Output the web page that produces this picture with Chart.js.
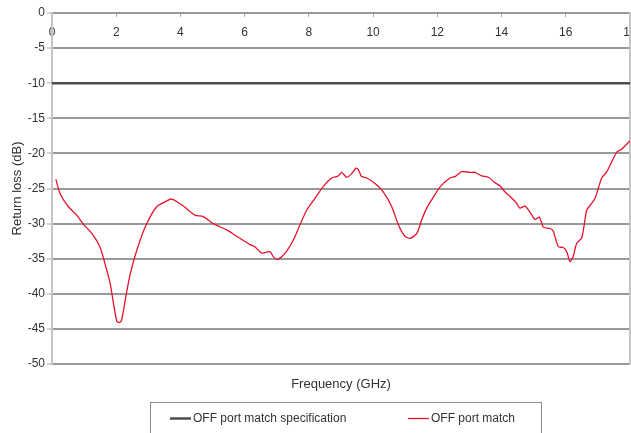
<!doctype html>
<html>

<head>
	<title>Return loss</title>
	<script src="https://cdn.jsdelivr.net/npm/chart.js@4.4.1/dist/chart.umd.min.js"></script>
	<style>
	html, body {
		margin: 0;
		padding: 0;
		background: #fff;
	}
	.chart-container {
		position: relative;
		width: 631px;
		height: 433px;
	}
	</style>
</head>

<body>
	<div class="chart-container">
		<canvas id="chart"></canvas>
	</div>
	<script>
		var freqRange = [0, 18];
		var lossRange = [-50, 0];

		// spec limit line
		var specFreq = [0, 18];
		var specLoss = [-10, -10];

		var matchFreq = [0.12, 0.25, 0.51, 0.77, 0.98, 1.24, 1.49, 1.65, 1.81, 1.93, 2.02, 2.10, 2.17, 2.30, 2.43, 2.64, 2.93,
			3.26, 3.52, 3.73, 4.09, 4.45, 4.71, 5.02, 5.44, 5.75, 6.17, 6.32, 6.53, 6.79, 6.89, 7.02, 7.26, 7.52, 7.72, 7.93,
			8.19, 8.45, 8.71, 8.92, 9.02, 9.18, 9.33, 9.47, 9.54, 9.64, 9.80, 10.06, 10.32, 10.58, 10.79, 10.99, 11.15, 11.36,
			11.51, 11.67, 11.88, 12.08, 12.39, 12.55, 12.76, 13.02, 13.17, 13.38, 13.59, 13.80, 13.95, 14.11, 14.26, 14.47,
			14.57, 14.73, 14.89, 15.04, 15.18, 15.30, 15.51, 15.61, 15.77, 15.92, 16.03, 16.13, 16.23, 16.34, 16.50, 16.65,
			16.76, 16.91, 17.12, 17.28, 17.59, 17.74, 18.0];
		var matchLoss = [-23.7, -25.7, -27.6, -28.8, -30.1, -31.4, -33.3, -35.7, -38.5, -41.8, -43.9, -44.1, -43.7, -40.4, -37.3, -33.8, -30.2,
			-27.6, -26.9, -26.5, -27.5, -28.8, -29.0, -30.0, -30.9, -31.8, -33.0, -33.3, -34.2, -34.0, -34.7, -35.1, -34.2, -32.3, -30.2, -28.1,
			-26.4, -24.7, -23.5, -23.2, -22.7, -23.4, -22.9, -22.1, -22.3, -23.3, -23.5, -24.3, -25.5, -27.6, -30.2, -31.8, -32.1, -31.4,
			-29.5, -27.8, -26.2, -24.8, -23.5, -23.3, -22.6, -22.7, -22.7, -23.2, -23.4, -24.2, -24.6, -25.5, -26.1, -27.1,
			-27.8, -27.5, -28.4, -29.4, -29.1, -30.5, -30.7, -31.1, -33.3, -33.4, -34.0, -35.4, -34.7, -32.8, -32.0, -28.1,
			-27.4, -26.4, -23.5, -22.6, -19.8, -19.4, -18.2];

		var fontFamily = "'Liberation Sans Narrow', 'Arial Narrow', 'Liberation Sans', sans-serif";

		function toPoints(xs, ys) {
			return xs.map(function(x, i) {
				return {x: x, y: ys[i]};
			});
		}

		// legend in a framed box under the axis title
		var boxLegend = {
			id: 'boxLegend',
			afterDraw: function(chart) {
				var ctx = chart.ctx;
				var area = chart.chartArea;
				var left = area.left + 98;
				var top = area.bottom + 38;
				var itemX = [left + 20, left + 258];
				ctx.save();
				ctx.strokeStyle = '#8c8c8c';
				ctx.lineWidth = 1;
				ctx.strokeRect(left + 0.5, top + 0.5, 391, 60);
				ctx.font = '12px ' + fontFamily;
				ctx.textBaseline = 'middle';
				chart.data.datasets.forEach(function(ds, i) {
					var y = top + 16.5;
					ctx.strokeStyle = ds.borderColor;
					ctx.lineWidth = ds.borderWidth;
					ctx.beginPath();
					ctx.moveTo(itemX[i], y);
					ctx.lineTo(itemX[i] + 21, y);
					ctx.stroke();
					ctx.fillStyle = '#333';
					ctx.fillText(ds.label, itemX[i] + 23, y);
				});
				ctx.restore();
			}
		};

		window.onload = function() {
			Chart.defaults.font.family = fontFamily;
			Chart.defaults.font.size = 12;
			Chart.defaults.color = '#333';

			var ctx = document.getElementById('chart').getContext('2d');
			new Chart(ctx, {
				type: 'line',
				data: {
					datasets: [{
						label: 'OFF port match specification',
						data: toPoints(specFreq, specLoss),
						borderColor: '#4d4d4d',
						borderWidth: 2.5,
						pointRadius: 0,
						xAxisID: 'x',
						yAxisID: 'y'
					}, {
						label: 'OFF port match',
						data: toPoints(matchFreq, matchLoss),
						borderColor: '#e8112d',
						borderWidth: 1.3,
						pointRadius: 0,
						tension: 0.25,
						xAxisID: 'x',
						yAxisID: 'y'
					}]
				},
				options: {
					responsive: true,
					maintainAspectRatio: false,
					animation: false,
					layout: {
						padding: {top: 0, right: 1, bottom: 29, left: 0}
					},
					plugins: {
						legend: {display: false},
						tooltip: {enabled: false}
					},
					scales: {
						x: {
							type: 'linear',
							position: 'top',
							min: freqRange[0],
							max: freqRange[1],
							border: {display: false},
							grid: {
								drawOnChartArea: false,
								tickLength: -4,
								color: '#aaa'
							},
							ticks: {
								stepSize: 2,
								mirror: true,
								padding: 12,
								maxRotation: 0
							},
							afterFit: function(scale) {
								scale.height = 13;
								scale.paddingLeft = 0;
								scale.paddingRight = 0;
							}
						},
						x2: {
							type: 'linear',
							position: 'bottom',
							min: freqRange[0],
							max: freqRange[1],
							border: {display: false},
							grid: {display: false, drawTicks: false},
							ticks: {display: false},
							title: {
								display: true,
								text: 'Frequency (GHz)',
								font: {size: 13},
								padding: {top: 14, bottom: 12}
							},
							afterFit: function(scale) {
								scale.height = 40;
							}
						},
						y: {
							position: 'left',
							min: lossRange[0],
							max: lossRange[1],
							border: {color: '#c4c4c4', width: 2},
							grid: {
								color: '#999',
								lineWidth: 2,
								tickLength: 5,
								tickColor: '#aaa',
								tickWidth: 1
							},
							ticks: {
								stepSize: 5,
								padding: 2
							},
							title: {
								display: true,
								text: 'Return loss (dB)',
								font: {size: 13},
								padding: {top: 10, bottom: 0}
							},
							afterFit: function(scale) {
								scale.width = 52;
							}
						},
						y2: {
							position: 'right',
							min: lossRange[0],
							max: lossRange[1],
							border: {color: '#c4c4c4', width: 2},
							grid: {drawOnChartArea: false, drawTicks: false},
							ticks: {display: false}
						}
					}
				},
				plugins: [boxLegend]
			});
		};
	</script>
</body>

</html>
